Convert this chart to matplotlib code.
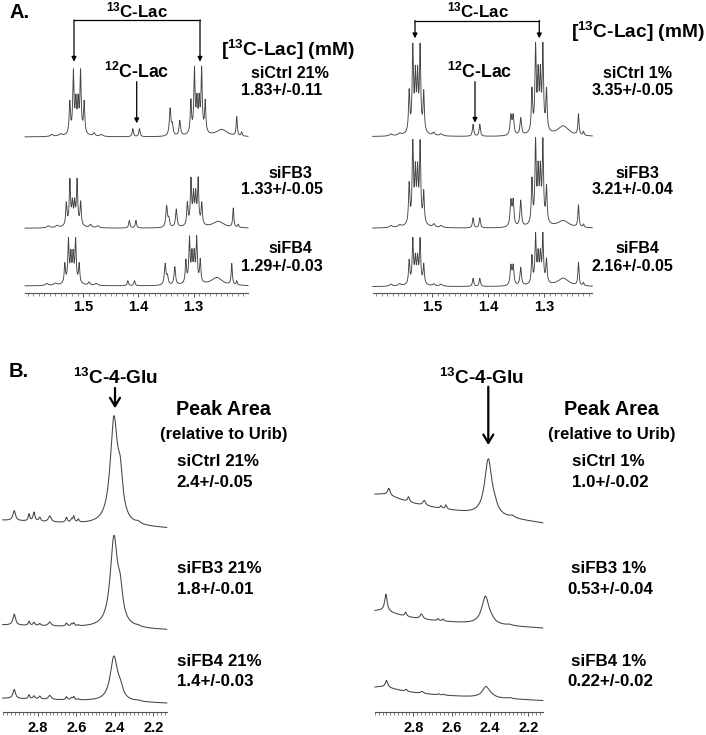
import numpy as np
import matplotlib
matplotlib.use("Agg")
import matplotlib.pyplot as plt
from matplotlib.lines import Line2D
from matplotlib.ticker import MultipleLocator, FixedLocator

plt.rcParams['font.family'] = 'Liberation Sans'
plt.rcParams['font.weight'] = 'bold'
plt.rcParams['mathtext.fontset'] = 'custom'
plt.rcParams['mathtext.rm'] = 'Liberation Sans:bold'
plt.rcParams['mathtext.it'] = 'Liberation Sans:bold'
plt.rcParams['mathtext.bf'] = 'Liberation Sans:bold'

# ---- panel A: lactate region, peak list (ppm, half width) ----
lac_ppm = [1.5735, 1.558, 1.541, 1.5345, 1.530, 1.526, 1.5215, 1.515, 1.528,
           1.497, 1.484, 1.427, 1.415, 1.3595, 1.3555, 1.342,
           1.322, 1.3155, 1.311, 1.307, 1.3025, 1.296, 1.309,
           1.266, 1.239, 1.230]
lac_hwhm = [0.003, 0.003, 0.0013, 0.0013, 0.0013, 0.0013, 0.0013, 0.0013, 0.011,
            0.002, 0.003, 0.0014, 0.0014, 0.0017, 0.0017, 0.0016,
            0.0013, 0.0013, 0.0013, 0.0013, 0.0013, 0.0013, 0.011,
            0.012, 0.0012, 0.0012]
# heights (px) for 21% O2 spectra: siCtrl, siFB3, siFB4
lac_21 = [
    [2, 2, 31, 59, 28, 28, 59, 31, 6, 3, 2, 8, 8, 27, 10, 15,
     32, 61, 28, 28, 61, 31, 6, 7, 19, 4],
    [2, 2, 22, 43, 19, 19, 43, 23, 5, 3, 2, 7.5, 7.5, 21, 8, 18,
     22, 43, 27, 27, 43, 21, 5, 6.5, 19, 3],
    [2, 2, 19, 41, 25, 25, 41, 19, 5, 3, 2, 5, 5, 21, 8, 18,
     22, 42, 25, 25, 42, 22, 5, 8, 21, 4],
]
lac_21_shift = [-0.017, -0.0107, -0.008]
# heights (px) for 1% O2 spectra
lac_1 = [
    [2, 2, 40, 80, 50, 50, 80, 39, 8, 3, 2, 12, 12, 19, 19, 17,
     41, 80, 50, 50, 80, 40, 8, 10, 21, 4],
    [2, 2, 39, 76, 46, 46, 76, 31, 8, 3, 2, 10, 10, 25, 25, 26,
     43, 77, 46, 46, 77, 35, 8, 7, 22, 3],
    [2, 2, 23, 42, 22, 22, 42, 19, 5, 2, 2, 8, 8, 19, 19, 18,
     27, 46, 25, 25, 46, 23, 5, 8, 23, 3],
]
lac_1_shift = [0.0, 0.0, 0.0]
lac_21_values = ['1.83+/-0.11', '1.33+/-0.05', '1.29+/-0.03']
lac_1_values = ['3.35+/-0.05', '3.21+/-0.04', '2.16+/-0.05']

# ---- panel B: glutamate C4 region ----
glu_ppm = [2.924, 2.847, 2.821, 2.791, 2.739, 2.652, 2.626, 2.614, 2.59, 2.405, 2.372, 2.28, 2.95]
glu_hwhm = [0.008, 0.005, 0.006, 0.006, 0.009, 0.005, 0.005, 0.005, 0.005, 0.023, 0.016, 0.015, 0.12]
glu_21 = [
    [10, 7, 9, 4, 6, 5, 3, 6, 3, 103, 36, 2, 0],
    [11, 4, 3, 2, 4, 3, 2, 3, 1, 88, 26, 1, 0],
    [9, 4, 3, 3, 4, 3, 2, 3, 1, 44, 9, 1, 0],
]
glu_21_tilt = [8, 5, 5]
glu_21_shift = [0.0, 0.0, 0.0]
glu_1 = [
    [7, 0, 5, 0, 5, 2.5, 4, 0, 0, 56, 5, 2, 8],
    [17, 0, 4, 0, 5, 2, 2, 0, 0, 28, 2, 1, 8],
    [7, 0, 2, 0, 2, 1, 1, 0, 0, 11, 1, 1, 6],
]
glu_1_tilt = [22, 10, 8]
glu_1_shift = [0.004, 0.019, 0.016]
glu_21_labels = ['siCtrl 21%', 'siFB3 21%', 'siFB4 21%']
glu_21_values = ['2.4+/-0.05', '1.8+/-0.01', '1.4+/-0.03']
glu_1_labels = ['siCtrl 1%', 'siFB3 1%', 'siFB4 1%']
glu_1_values = ['1.0+/-0.02', '0.53+/-0.04', '0.22+/-0.02']

W, H = 706, 735
fig = plt.figure(figsize=(W / 100, H / 100), dpi=100)
LC = '#444444'


def lorentz_sum(x, centers, widths, heights, shift):
    y = np.zeros_like(x)
    for c, w, h in zip(centers, widths, heights):
        y += h / (1 + ((x - c - shift) / w) ** 2)
    return y


def make_axes(x0, x1, y_axis, y_top, xlim, major, minor):
    ax = fig.add_axes([x0 / W, 1 - y_axis / H, (x1 - x0) / W, (y_axis - y_top) / H])
    ax.set_xlim(*xlim)
    ax.set_ylim(0, y_axis - y_top)
    for s in ['top', 'left', 'right']:
        ax.spines[s].set_visible(False)
    ax.spines['bottom'].set_color('#555555')
    ax.spines['bottom'].set_linewidth(0.8)
    ax.set_yticks([])
    ax.xaxis.set_major_locator(FixedLocator(major))
    ax.xaxis.set_minor_locator(MultipleLocator(minor))
    ax.tick_params(axis='x', which='major', length=3, width=0.7, color='#555555',
                   labelsize=10.5, pad=2)
    ax.tick_params(axis='x', which='minor', length=2, width=0.5, color='#555555')
    for lab in ax.get_xticklabels():
        lab.set_fontweight('bold')
    ax.patch.set_alpha(0)
    return ax


def txt(x, y, s, size, ha='center'):
    fig.text(x / W, 1 - y / H, s, fontsize=size, fontweight='bold', ha=ha, va='center')


def arrow(x, y0, y1, style, lw, scale):
    fig.add_artist(plt.Annotation('', xy=(x / W, 1 - y1 / H), xytext=(x / W, 1 - y0 / H),
                                  xycoords='figure fraction',
                                  arrowprops=dict(arrowstyle=style, color='k', lw=lw,
                                                  mutation_scale=scale, shrinkA=0, shrinkB=0)))


# ---------------- Panel A ----------------
panels_a = [
    dict(x0=25, x1=248, xlim=(1.605, 1.2016), base=[137, 228.3, 286],
         heights=lac_21, shift=lac_21_shift),
    dict(x0=372.7, x1=592.3, xlim=(1.606, 1.2143), base=[136.7, 228.3, 286.7],
         heights=lac_1, shift=lac_1_shift),
]
for p in panels_a:
    ax = make_axes(p['x0'], p['x1'], 292.7, 5, p['xlim'], [1.5, 1.4, 1.3], 0.01)
    ppm = np.linspace(p['xlim'][0], p['xlim'][1], 5000)
    for k in range(3):
        y = lorentz_sum(ppm, lac_ppm, lac_hwhm, p['heights'][k], p['shift'][k])
        ax.plot(ppm, y + 292.7 - p['base'][k], color=LC, lw=0.65, clip_on=False)

# ---------------- Panel B ----------------
panels_b = [
    dict(x0=2.7, x1=166.7, xlim=(2.984, 2.130), base=[528.3, 630, 703.3],
         heights=glu_21, shift=glu_21_shift, tilt=glu_21_tilt),
    dict(x0=375, x1=542.7, xlim=(3.0, 2.125), base=[523.3, 628.3, 700.7],
         heights=glu_1, shift=glu_1_shift, tilt=glu_1_tilt),
]
for p in panels_b:
    ax = make_axes(p['x0'], p['x1'], 712, 380, p['xlim'], [2.8, 2.6, 2.4, 2.2], 0.02)
    ax.tick_params(axis='x', which='major', labelsize=10.5, pad=3.5)
    ppm = np.linspace(p['xlim'][0], p['xlim'][1], 3000)
    frac = (ppm - p['xlim'][1]) / (p['xlim'][0] - p['xlim'][1])
    for k in range(3):
        y = lorentz_sum(ppm, glu_ppm, glu_hwhm, p['heights'][k], p['shift'][k])
        y = y + p['tilt'][k] * frac
        ax.plot(ppm, y + 712 - p['base'][k], color=LC, lw=0.75, clip_on=False)

# ---------------- annotations A ----------------
txt(20, 13, 'A.', 14.5)
for cx, cy, yline, xl, xr, ytip in [(137, 10, 20, 74, 200, 61.7),
                                    (478, 10, 20.5, 415, 539.3, 38.3)]:
    txt(cx, cy, r'$^{13}$C-Lac', 12.2)
    fig.add_artist(Line2D([xl / W, xr / W], [1 - yline / H, 1 - yline / H],
                          color='k', lw=0.9))
    for xx in (xl, xr):
        arrow(xx, yline, ytip, '-|>', 0.9, 7)
for cx, ax_x, ytip in [(137, 136.7, 123.3), (480, 475, 122.7)]:
    txt(cx, 71.7, r'$^{12}$C-Lac', 12.8)
    arrow(ax_x, 81.7, ytip, '-|>', 0.9, 7)

txt(287.7, 50, r'[$^{13}$C-Lac] (mM)', 13.8)
txt(638, 31.7, r'[$^{13}$C-Lac] (mM)', 13.8)
left_names = ['siCtrl 21%', 'siFB3', 'siFB4']
right_names = ['siCtrl 1%', 'siFB3', 'siFB4']
name_y = [74, 173.3, 248.3]
val_y = [90.7, 189.5, 266.7]
for k in range(3):
    txt(290, name_y[k], left_names[k], 11.6)
    txt(281.7, val_y[k], lac_21_values[k], 11.6)
    txt(637.5, name_y[k], right_names[k], 11.6)
    txt(632.8, val_y[k], lac_1_values[k], 11.6)

# ---------------- annotations B ----------------
txt(18.3, 371.7, 'B.', 14.5)
for cx, ax_x, y0, y1 in [(115, 115, 388, 408.3), (481.7, 488.3, 386.7, 445)]:
    txt(cx, 378.3, r'$^{13}$C-4-Glu', 13.7)
    arrow(ax_x, y0, y1, '->,head_length=0.5,head_width=0.3', 1.6, 12)
for cx in (223.3, 611.7):
    txt(cx, 410, 'Peak Area', 14.2)
    txt(cx + 0.5, 434, '(relative to Urib)', 12)
b_name_y = [461.7, 568.3, 661.7]
b_val_y = [482.7, 590, 681.7]
for k in range(3):
    txt(176.7, b_name_y[k], glu_21_labels[k], 12.2, ha='left')
    txt(176.7, b_val_y[k], glu_21_values[k], 12.2, ha='left')
    txt(608.3, b_name_y[k], glu_1_labels[k], 12.2)
    txt(610.5, b_val_y[k], glu_1_values[k], 12.2)

fig.savefig('out.png', dpi=100)
